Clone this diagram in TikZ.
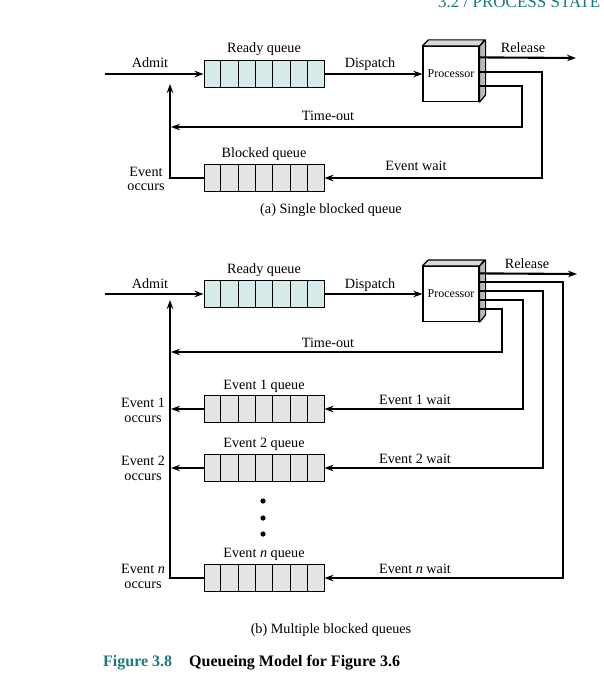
\documentclass[tikz,border=0pt]{standalone}
\usepackage{fontspec}
\setmainfont{Liberation Serif}
\usetikzlibrary{arrows.meta,calc}
\definecolor{figteal}{RGB}{28,122,124}
\definecolor{readyfill}{RGB}{214,234,234}
\definecolor{blockfill}{RGB}{228,228,228}
\newcommand\qcells[1]{\foreach \i in {1,...,6}{\draw[line width=0.8pt] ($(#1.north west)!\i/7!(#1.north east)$) -- ($(#1.south west)!\i/7!(#1.south east)$);}}
\newcommand\procbox[1]{%
  \draw[line width=1.2pt,fill=gray!30,line join=round] (#1.north west) -- ++(6,-6) -- ++(56,0) -- (#1.north east) -- cycle;
  \draw[line width=1.2pt,fill=gray!55,line join=round] (#1.north east) -- ++(6,-6) -- ++(0,55) -- (#1.south east) -- cycle;}
\begin{document}
\begin{tikzpicture}[x=1pt,y=-1pt,
  flow/.style={line width=2pt},
  arr/.style={line width=2.1pt,-{Stealth[length=9pt,width=6.5pt]}},
  queue/.style={draw,line width=0.9pt,minimum width=120pt,minimum height=27pt,inner sep=0pt},
  rqueue/.style={queue,fill=readyfill},
  bqueue/.style={queue,fill=blockfill},
  lbl/.style={font=\fontsize{14.2}{16}\selectfont,anchor=base,inner sep=0pt},
  proc/.style={draw,line width=1.2pt,fill=white,minimum width=56pt,minimum height=55pt,inner sep=0pt,font=\fontsize{12}{14}\selectfont}]
\useasboundingbox (0,0) rectangle (603,674);

% header
\node[anchor=base west,inner sep=0pt,font=\fontsize{17}{19}\selectfont,text=figteal] (hdr) at (438,7.5) {3.2 / PROCESS STATE};

% ===================== (a) =====================
\node[rqueue] (rq1) at (264,74) {};
\qcells{rq1}
\node[bqueue] (bq1) at (264,178) {};
\qcells{bq1}
\node[proc] (p1) at (451,74) {Processor};
\procbox{p1}
\coordinate (p1o1) at ($(p1.north east)+(0,11.5)$);
\coordinate (p1o2) at ($(p1.north east)+(0,26.5)$);
\coordinate (p1o3) at ($(p1.north east)+(0,40.5)$);
\coordinate (ad1) at (105,74);
\coordinate (rel1) at (576,58);
\coordinate (c12) at (542,178);
\coordinate (c13) at (522,127);
\coordinate (to1) at (171,127);
\coordinate (up1) at (170,84);

\draw[arr] (ad1) -- (rq1.west);
\draw[arr] (rq1.east) -- (p1.west);
\draw[arr] (p1o1) -- (rel1);
\draw[arr,line join=miter] (p1o2) -| (c12) -- (bq1.east);
\draw[arr,line join=miter] (p1o3) -| (c13) -- (to1);
\draw[arr,line join=miter] (bq1.west) -| (up1);

\node[lbl] (la1) at (150,68) {Admit};
\node[lbl] (lr1) at (264,53) {Ready queue};
\node[lbl] (ld1) at (370,68) {Dispatch};
\node[lbl] (lre1) at (523,53) {Release};
\node[lbl] (lt1) at (328,121) {Time-out};
\node[lbl] (lb1) at (264,157) {Blocked queue};
\node[lbl] (lw1) at (416,170) {Event wait};
\node[lbl] (le1) at (146,176) {Event};
\node[lbl] (lo1) at (146,190) {occurs};
\node[lbl] (cap1) at (331,213) {(a) Single blocked queue};

% ===================== (b) =====================
\node[rqueue] (rq2) at (264,294) {};
\qcells{rq2}
\node[bqueue] (e1q) at (264,409) {};
\qcells{e1q}
\node[bqueue] (e2q) at (264,468) {};
\qcells{e2q}
\node[bqueue] (enq) at (264,578) {};
\qcells{enq}
\node[proc] (p2) at (451,294) {Processor};
\procbox{p2}
\coordinate (p2o1) at ($(p2.north east)+(0,7.5)$);
\coordinate (p2o2) at ($(p2.north east)+(0,16.5)$);
\coordinate (p2o3) at ($(p2.north east)+(0,25.5)$);
\coordinate (p2o4) at ($(p2.north east)+(0,34.5)$);
\coordinate (p2o5) at ($(p2.north east)+(0,43.5)$);
\coordinate (ad2) at (105,294);
\coordinate (rel2) at (577,274);
\coordinate (c21) at (502,352);
\coordinate (c22) at (523,409);
\coordinate (c23) at (543,468);
\coordinate (c24) at (563,578);
\coordinate (to2) at (171,352);
\coordinate (o1) at (171,409);
\coordinate (o2) at (171,468);
\coordinate (up2) at (170,300);

\draw[arr] (ad2) -- (rq2.west);
\draw[arr] (rq2.east) -- (p2.west);
\draw[arr] (p2o1) -- (rel2);
\draw[arr,line join=miter] (p2o2) -| (c24) -- (enq.east);
\draw[arr,line join=miter] (p2o3) -| (c23) -- (e2q.east);
\draw[arr,line join=miter] (p2o4) -| (c22) -- (e1q.east);
\draw[arr,line join=miter] (p2o5) -| (c21) -- (to2);
\draw[arr,line join=miter] (enq.west) -| (up2);
\draw[arr] (e1q.west) -- (o1);
\draw[arr] (e2q.west) -- (o2);

\node[lbl] (la2) at (150,288) {Admit};
\node[lbl] (lr2) at (264,273) {Ready queue};
\node[lbl] (ld2) at (370,288) {Dispatch};
\node[lbl] (lre2) at (527,268) {Release};
\node[lbl] (lt2) at (328,347) {Time-out};
\node[lbl] (lq1) at (264,389) {Event 1 queue};
\node[lbl] (lw21) at (415,404) {Event 1 wait};
\node[lbl] (le21) at (143,407) {Event 1};
\node[lbl] (lo21) at (143,422) {occurs};
\node[lbl] (lq2) at (264,447) {Event 2 queue};
\node[lbl] (lw22) at (415,463) {Event 2 wait};
\node[lbl] (le22) at (143,465) {Event 2};
\node[lbl] (lo22) at (143,480) {occurs};
\node[lbl] (lqn) at (264,557) {Event \textit{n} queue};
\node[lbl] (lw2n) at (415,573) {Event \textit{n} wait};
\node[lbl] (le2n) at (143,573) {Event \textit{n}};
\node[lbl] (lo2n) at (143,588) {occurs};
\fill (263,501) circle (2.6pt);
\fill (263,518) circle (2.6pt);
\fill (263,534) circle (2.6pt);
\node[lbl] (cap2) at (331,633) {(b) Multiple blocked queues};

% caption
\node[anchor=base west,inner sep=0pt,font=\fontsize{16}{18}\selectfont\bfseries,text=figteal] (fig) at (103,666) {Figure 3.8};
\node[anchor=base west,inner sep=0pt,font=\fontsize{16}{18}\selectfont\bfseries] (figt) at (189,666) {Queueing Model for Figure 3.6};
\end{tikzpicture}
\end{document}
